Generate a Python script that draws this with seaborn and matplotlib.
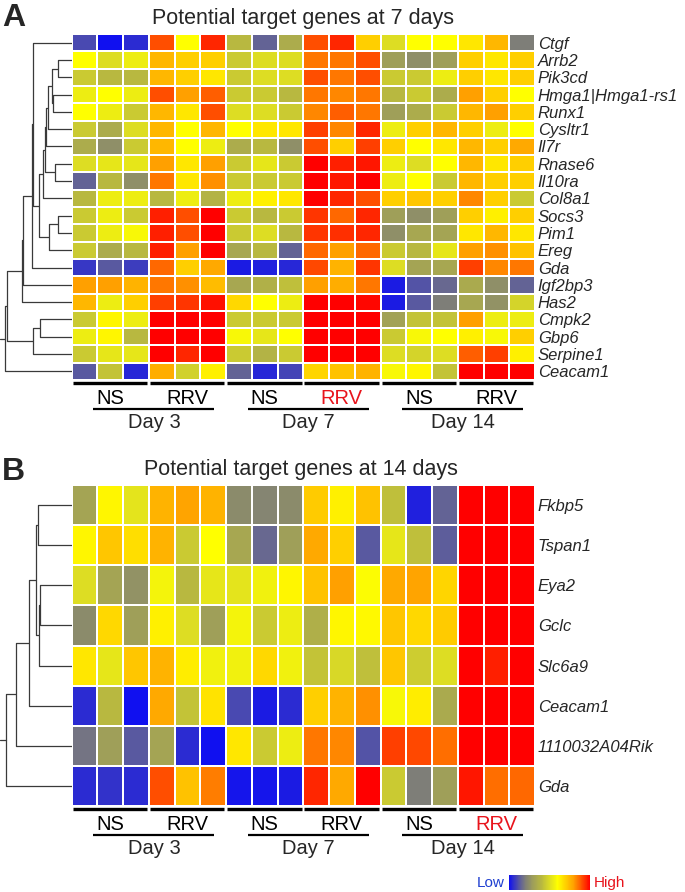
import numpy as np
import pandas as pd
import matplotlib
matplotlib.use("Agg")
import matplotlib.pyplot as plt
import matplotlib.transforms as mtrans
from matplotlib.colors import LinearSegmentedColormap, Normalize
from matplotlib.cm import ScalarMappable
import seaborn as sns

sns.set_style("white")
plt.rcParams["font.family"] = ["Liberation Sans", "DejaVu Sans"]

# ---------------- data ----------------
columns = [f"{d}_{g}_{r}" for d in ["D3", "D7", "D14"] for g in ["NS", "RRV"] for r in (1, 2, 3)]
group_labels = ["NS", "RRV", "NS", "RRV", "NS", "RRV"]
day_labels = ["Day 3", "Day 7", "Day 14"]

genes_a = ["Ctgf", "Arrb2", "Pik3cd", "Hmga1|Hmga1-rs1", "Runx1", "Cysltr1", "Il7r",
           "Rnase6", "Il10ra", "Col8a1", "Socs3", "Pim1", "Ereg", "Gda", "Igf2bp3",
           "Has2", "Cmpk2", "Gbp6", "Serpine1", "Ceacam1"]
ctgf     = [1.0, 0.0, 0.5, 9.0, 6.0, 9.5, 4.0, 1.5, 3.5, 9.0, 9.5, 7.0, 5.0, 6.0, 6.0, 6.5, 7.5, 2.0]
arrb2    = [6.0, 5.0, 5.5, 7.5, 7.0, 7.0, 4.5, 5.0, 5.0, 8.5, 8.5, 9.0, 3.0, 2.5, 3.0, 7.0, 6.5, 7.0]
pik3cd   = [4.5, 4.0, 4.0, 7.5, 7.0, 6.5, 4.5, 5.0, 5.0, 9.0, 8.5, 9.0, 4.5, 4.5, 5.5, 7.0, 6.5, 7.0]
hmga1    = [5.5, 6.0, 5.5, 9.0, 8.0, 8.8, 4.5, 4.5, 4.0, 8.5, 8.3, 8.5, 4.0, 4.5, 3.5, 8.0, 7.0, 6.0]
runx1    = [6.0, 5.5, 4.5, 7.5, 6.5, 9.0, 5.0, 5.0, 4.5, 8.3, 8.8, 8.5, 3.0, 3.5, 4.5, 7.5, 8.0, 7.0]
cysltr1  = [4.5, 3.5, 5.0, 7.5, 6.0, 7.5, 6.0, 6.5, 6.5, 9.2, 8.3, 9.5, 5.5, 7.0, 7.5, 7.0, 5.5, 6.0]
il7r     = [3.5, 2.5, 4.5, 7.5, 6.0, 5.5, 3.5, 4.0, 2.5, 9.0, 7.0, 9.2, 7.0, 6.0, 6.5, 7.5, 7.0, 7.8]
rnase6   = [5.0, 5.3, 5.3, 8.0, 6.5, 8.0, 4.5, 5.3, 4.5, 10.0, 9.6, 9.7, 5.5, 5.0, 6.0, 7.5, 6.5, 7.0]
il10ra   = [1.5, 4.0, 2.5, 8.5, 6.5, 8.2, 4.5, 4.5, 4.5, 10.0, 9.7, 10.0, 5.5, 6.0, 4.5, 7.5, 7.0, 7.0]
col8a1   = [4.0, 5.5, 5.5, 4.0, 5.5, 3.8, 5.5, 6.3, 6.5, 10.0, 9.5, 9.0, 7.0, 7.2, 7.0, 8.3, 7.0, 4.5]
socs3    = [4.5, 5.5, 4.5, 9.6, 9.0, 10.0, 4.5, 4.0, 4.5, 9.3, 8.7, 9.5, 3.0, 2.5, 3.0, 7.0, 6.3, 7.0]
pim1     = [4.5, 5.5, 5.8, 9.6, 9.0, 10.0, 4.5, 5.0, 4.0, 9.3, 9.4, 9.5, 2.5, 3.3, 3.2, 6.5, 7.5, 6.5]
ereg     = [4.5, 3.5, 4.0, 9.6, 8.0, 10.0, 3.3, 4.0, 1.5, 8.7, 8.0, 8.7, 4.5, 4.0, 5.3, 8.0, 8.2, 7.3]
gda_a    = [0.7, 1.3, 0.8, 8.7, 7.0, 7.8, 0.2, 0.3, 0.4, 9.1, 7.6, 9.3, 5.0, 3.2, 3.3, 9.2, 8.3, 8.5]
igf2bp3  = [8.0, 8.0, 7.6, 8.5, 8.2, 7.4, 3.3, 3.7, 4.2, 8.0, 7.7, 8.5, 0.2, 1.2, 1.6, 3.4, 2.5, 1.5]
has2     = [7.5, 5.5, 7.0, 9.2, 9.3, 9.8, 6.8, 6.0, 5.5, 10.0, 10.0, 9.9, 0.2, 1.3, 2.0, 3.3, 2.6, 4.8]
cmpk2    = [4.5, 6.2, 5.5, 10.0, 10.0, 10.0, 4.5, 4.5, 4.5, 10.0, 10.0, 10.0, 3.1, 4.3, 4.3, 8.0, 5.5, 5.5]
gbp6     = [5.5, 6.2, 4.0, 10.0, 10.0, 10.0, 5.8, 5.3, 6.0, 10.0, 10.0, 10.0, 4.5, 5.8, 6.0, 6.3, 5.8, 7.0]
serpine1 = [4.5, 5.3, 5.3, 10.0, 9.5, 10.0, 4.5, 3.8, 4.5, 10.0, 10.0, 10.0, 5.0, 4.8, 5.0, 8.8, 9.2, 6.3]
ceacam_a = [1.3, 4.3, 0.4, 7.7, 4.7, 6.3, 1.5, 0.4, 0.9, 6.9, 7.3, 7.6, 5.8, 6.2, 4.3, 10.0, 10.0, 10.0]
rows_a = [ctgf, arrb2, pik3cd, hmga1, runx1, cysltr1, il7r, rnase6, il10ra, col8a1,
          socs3, pim1, ereg, gda_a, igf2bp3, has2, cmpk2, gbp6, serpine1, ceacam_a]

genes_b = ["Fkbp5", "Tspan1", "Eya2", "Gclc", "Slc6a9", "Ceacam1", "1110032A04Rik", "Gda"]
fkbp5    = [3.2, 6.2, 5.2, 7.6, 7.9, 7.6, 2.4, 2.2, 2.4, 7.1, 6.3, 7.3, 4.2, 0.3, 1.5, 10.0, 10.0, 10.0]
tspan1   = [6.2, 7.2, 6.7, 7.6, 4.5, 6.0, 3.3, 1.6, 3.0, 7.8, 7.0, 1.3, 5.3, 4.2, 1.4, 10.0, 10.0, 10.0]
eya2     = [5.0, 3.2, 2.6, 5.7, 4.0, 5.3, 5.2, 5.6, 6.2, 7.3, 8.0, 5.9, 7.8, 7.9, 6.9, 10.0, 10.0, 10.0]
gclc     = [2.4, 6.8, 3.0, 6.3, 5.0, 3.0, 5.7, 4.5, 5.5, 3.6, 6.2, 6.1, 7.2, 6.8, 7.1, 10.0, 10.0, 10.0]
slc6a9   = [6.5, 5.3, 7.2, 7.6, 6.4, 5.6, 5.6, 6.8, 5.6, 4.3, 4.9, 4.2, 7.2, 4.6, 5.0, 10.0, 9.6, 10.0]
ceacam_b = [0.5, 4.0, 0.0, 7.8, 4.3, 6.6, 1.0, 0.2, 0.5, 7.0, 7.6, 8.2, 5.8, 6.4, 3.4, 10.0, 10.0, 10.0]
rik      = [1.8, 3.0, 1.3, 3.2, 0.5, 0.0, 6.5, 4.5, 5.5, 8.5, 8.3, 1.2, 9.2, 9.1, 8.6, 10.0, 10.0, 10.0]
gda_b    = [0.5, 0.6, 0.5, 9.0, 7.3, 8.4, 0.1, 0.1, 0.2, 9.5, 7.8, 10.0, 4.5, 2.0, 3.0, 9.7, 8.6, 8.7]
rows_b = [fkbp5, tspan1, eya2, gclc, slc6a9, ceacam_b, rik, gda_b]

# dendrogram merges: (child, child, height in px from the leaves); new nodes numbered n, n+1, ...
link_a = [(1, 2, 13.2), (3, 4, 18.5), (20, 21, 19.2), (22, 5, 23.2), (7, 8, 16.5),
          (23, 6, 25.5), (25, 24, 26.5), (26, 9, 28.8), (10, 11, 13.2), (28, 12, 22.2),
          (27, 29, 32.2), (0, 30, 38.2), (31, 13, 39.8), (32, 14, 49.0), (33, 15, 50.0),
          (16, 17, 31.5), (35, 18, 38.2), (34, 36, 64.2), (37, 19, 66.5)]
link_b = [(0, 1, 33.2), (2, 3, 31.5), (9, 4, 32.2), (8, 10, 35.8), (11, 5, 42.2),
          (12, 6, 55.5), (13, 7, 65.5)]

# ---------------- style ----------------
cmap = LinearSegmentedColormap.from_list("lowhigh", [
    (0.0, "#1010f0"), (0.1, "#4a4ab0"), (0.2, "#7e7e78"), (0.3, "#a0a058"),
    (0.4, "#b8b840"), (0.5, "#dcdc24"), (0.6, "#ffff00"), (0.7, "#ffd000"),
    (0.8, "#ffa000"), (0.9, "#ff5000"), (1.0, "#ff0000")])

W, H = 685, 892
fig = plt.figure(figsize=(W / 100, H / 100), dpi=100)


def px_axes(x0, y0, x1, y1):
    return fig.add_axes([x0 / W, 1 - y1 / H, (x1 - x0) / W, (y1 - y0) / H])


def draw_dendro(ax, links, n, width):
    pos = {i: i + 0.5 for i in range(n)}
    hgt = {i: 0.0 for i in range(n)}
    for k, (a, b, h) in enumerate(links):
        ax.plot([hgt[a], h, h, hgt[b]], [pos[a], pos[a], pos[b], pos[b]],
                color="#3a3a3a", lw=0.9, solid_capstyle="butt")
        pos[n + k] = (pos[a] + pos[b]) / 2
        hgt[n + k] = h
    r = n + len(links) - 1
    ax.plot([hgt[r], width], [pos[r], pos[r]], color="#3a3a3a", lw=0.9)
    ax.set_xlim(width, 0)
    ax.set_ylim(n, 0)
    ax.axis("off")


def draw_panel(ax, rows, genes, red_group):
    df = pd.DataFrame(rows, index=genes, columns=columns)
    sns.heatmap(df, ax=ax, cmap=cmap, vmin=0, vmax=10, cbar=False,
                linewidths=1.3, linecolor="white", xticklabels=False, yticklabels=True)
    ax.yaxis.tick_right()
    ax.tick_params(axis="y", length=0, pad=2)
    ax.set_yticklabels(genes, rotation=0, fontstyle="italic", fontsize=12)
    ax.set_xlabel("")
    ax.set_ylabel("")
    base = ax.get_xaxis_transform()

    def off(dy):
        return base + mtrans.ScaledTranslation(0, -dy / 100, fig.dpi_scale_trans)

    for g, lab in enumerate(group_labels):
        ax.plot([3 * g + 0.04, 3 * g + 2.94], [0, 0], transform=off(2.5), color="black",
                lw=2.4, clip_on=False, solid_capstyle="butt")
        ax.annotate(lab, xy=(3 * g + 1.5, 0), xycoords=base, xytext=(0, -24),
                    textcoords="offset pixels", ha="center", va="baseline", fontsize=14.5,
                    color="#e8141c" if g == red_group else "black", annotation_clip=False)
    for d, lab in enumerate(day_labels):
        c = 6 * d + 3.2
        ax.plot([c - 2.35, c + 2.35], [0, 0], transform=off(28.5), color="black",
                lw=1.6, clip_on=False, solid_capstyle="butt")
        ax.annotate(lab, xy=(c, 0), xycoords=base, xytext=(0, -48),
                    textcoords="offset pixels", ha="center", va="baseline", fontsize=14.5,
                    annotation_clip=False)


# panel A
ax_a = px_axes(71.5, 34, 535, 380)
draw_panel(ax_a, rows_a, genes_a, red_group=3)
dn_a = px_axes(0, 34, 71.5, 380)
draw_dendro(dn_a, link_a, len(genes_a), 71.5)

# panel B
ax_b = px_axes(71.5, 485, 535, 806)
draw_panel(ax_b, rows_b, genes_b, red_group=5)
dn_b = px_axes(0, 485, 71.5, 806)
draw_dendro(dn_b, link_b, len(genes_b), 71.5)

# titles and panel letters
fig.text(303 / W, 1 - 24 / H, "Potential target genes at 7 days", ha="center",
         va="baseline", fontsize=15.5)
fig.text(301 / W, 1 - 475 / H, "Potential target genes at 14 days", ha="center",
         va="baseline", fontsize=15.5)
fig.text(2 / W, 1 - 26 / H, "A", ha="left", va="baseline", fontsize=23, fontweight="bold")
fig.text(2 / W, 1 - 480 / H, "B", ha="left", va="baseline", fontsize=23, fontweight="bold")

# colour key
cax = px_axes(509, 875, 590, 890)
cb = fig.colorbar(ScalarMappable(norm=Normalize(0, 10), cmap=cmap), cax=cax,
                  orientation="horizontal")
cb.set_ticks([])
cb.outline.set_visible(False)
fig.text(505 / W, 1 - 883 / H, "Low", ha="right", va="center", fontsize=11, color="#1f3fd0")
fig.text(594 / W, 1 - 883 / H, "High", ha="left", va="center", fontsize=11, color="#e8141c")

fig.savefig("out.png", dpi=100)
